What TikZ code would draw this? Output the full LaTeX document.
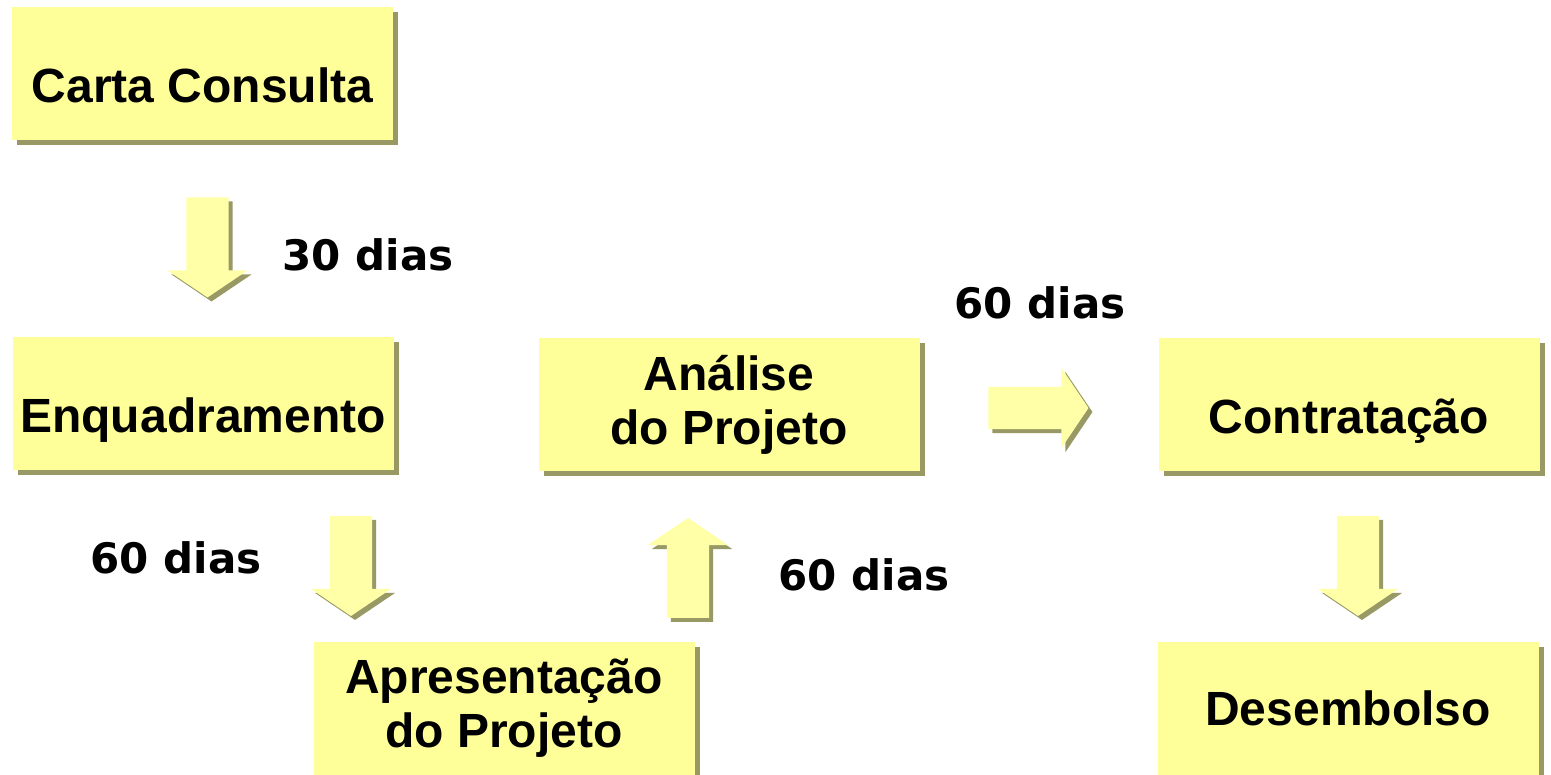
\documentclass[tikz,border=0pt]{standalone}
\usepackage{fontspec}
\setmainfont{Liberation Sans}
\newfontfamily\rotulofont{DejaVu Sans}
\usepackage{tikz}
\usetikzlibrary{shapes.arrows,shadows}

\definecolor{amarelo}{HTML}{FFFF99}
\definecolor{amareloseta}{HTML}{FFFFA8}
\definecolor{sombra}{HTML}{999966}

\tikzset{
  caixa/.style={rectangle, fill=amarelo, minimum width=381pt, minimum height=133pt,
    inner sep=0pt, align=center, font=\fontsize{48}{54}\selectfont\bfseries,
    drop shadow={shadow xshift=5pt, shadow yshift=-5pt, fill=sombra, opacity=1}},
  umalinha/.style={text height=58pt, text depth=0pt},
  seta/.style={single arrow, fill=amareloseta, minimum height=100pt, inner sep=21pt,
    single arrow head extend=19pt, single arrow tip angle=112,
    single arrow head indent=0pt, anchor=tip,
    drop shadow={shadow xshift=4pt, shadow yshift=-4pt, fill=sombra, opacity=1}},
  dias/.style={font=\rotulofont\fontsize{42}{48}\selectfont\bfseries, inner sep=0pt}
}

\begin{document}
\begin{tikzpicture}[x=1pt, y=-1pt]
\useasboundingbox (0,0) rectangle (1551,775);

% etapas
\node[caixa, umalinha] (carta) at (202.5,74) {Carta Consulta};
\node[caixa, umalinha] (enquad) at (203,403.5) {Enquadramento};
\node[caixa] (analise) at (729,405) {Análise\\do Projeto};
\node[caixa, umalinha] (contrat) at (1349,404.5) {Contratação};
\node[caixa] (apres) at (504,708) {Apresentação\\do Projeto};
\node[caixa] (desemb) at (1348,708) {Desembolso};

% setas
\node[seta, shape border rotate=270] (s1) at ([shift={(5,157)}]carta.south) {};
\node[seta, shape border rotate=270] (s2) at ([shift={(148,146)}]enquad.south) {};
\node[seta, shape border rotate=90] (s3) at ([shift={(-41,46)}]analise.south) {};
\node[seta] (s4) at ([shift={(169,3)}]analise.east) {};
\node[seta, shape border rotate=270] (s5) at ([shift={(9,145)}]contrat.south) {};

% prazos
\node[dias] (d1) at (368,255) {30 dias};
\node[dias] (d2) at (176,558) {60 dias};
\node[dias] (d3) at (864,575) {60 dias};
\node[dias] (d4) at (1040,303) {60 dias};
\end{tikzpicture}
\end{document}
